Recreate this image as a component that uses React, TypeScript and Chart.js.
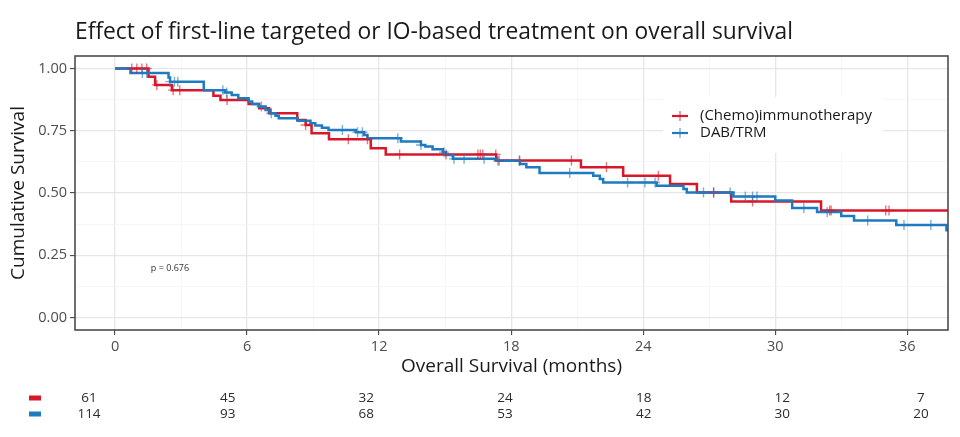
import React, { useEffect, useRef } from 'react';
import { Chart, registerables } from 'chart.js';

Chart.register(...registerables);

const TITLE = 'Effect of first-line targeted or IO-based treatment on overall survival';
const Y_TITLE = 'Cumulative Survival';
const X_TITLE = 'Overall Survival (months)';
const P_TEXT = 'p = 0.676';

const seriesNames = ['(Chemo)immunotherapy', 'DAB/TRM'];
const seriesColors = ['#D7182A', '#1F7BBF'];
const censorColors = ['rgba(215,24,42,0.6)', 'rgba(31,123,191,0.6)'];

const xMajorTicks = [0, 6, 12, 18, 24, 30, 36];
const xTickLabels = ['0', '6', '12', '18', '24', '30', '36'];
const yMajorTicks = [0, 0.25, 0.5, 0.75, 1];
const yTickLabels = ['0.00', '0.25', '0.50', '0.75', '1.00'];

const chemoTimes = [0, 1.52, 1.82, 2.58, 4.47, 4.79, 6.07, 6.55, 7.0, 8.28, 8.66, 8.93, 9.72, 11.62, 12.3, 17.32, 21.17, 23.09, 25.22, 26.44, 28.0, 32.08, 38.5];
const chemoSurv = [1, 0.967, 0.934, 0.913, 0.89, 0.873, 0.857, 0.84, 0.82, 0.793, 0.773, 0.74, 0.716, 0.68, 0.655, 0.63, 0.603, 0.569, 0.536, 0.502, 0.466, 0.43, 0.43];
const chemoCensorTimes = [0.76, 0.99, 1.22, 1.44, 1.9, 2.64, 2.94, 5.09, 8.66, 10.6, 11.47, 12.93, 15.04, 16.49, 16.6, 16.71, 17.3, 17.45, 18.38, 20.74, 22.33, 24.69, 27.2, 28.97, 32.47, 32.54, 35.02, 35.17];

const dabTimes = [0, 0.7, 2.43, 2.5, 4.03, 5.0, 5.3, 5.6, 6.07, 6.23, 6.53, 6.84, 7.06, 7.29, 7.44, 8.3, 8.88, 9.1, 9.4, 9.7, 10.94, 11.32, 11.47, 12.99, 13.9, 14.1, 14.43, 14.89, 15.04, 15.35, 17.35, 18.4, 18.69, 19.29, 21.73, 22.03, 22.18, 24.61, 25.83, 25.98, 28.1, 30.0, 30.77, 31.9, 33.0, 33.58, 35.5, 37.78, 38.2];
const dabSurv = [1, 0.982, 0.964, 0.947, 0.913, 0.903, 0.893, 0.88, 0.867, 0.857, 0.847, 0.833, 0.82, 0.81, 0.8, 0.79, 0.78, 0.771, 0.762, 0.753, 0.744, 0.733, 0.72, 0.707, 0.693, 0.687, 0.676, 0.664, 0.653, 0.637, 0.629, 0.616, 0.603, 0.58, 0.569, 0.556, 0.542, 0.529, 0.516, 0.502, 0.486, 0.47, 0.44, 0.424, 0.408, 0.39, 0.372, 0.35, 0.32];
const dabCensorTimes = [1.24, 1.44, 2.5, 2.7, 2.85, 4.9, 5.07, 6.65, 7.1, 10.33, 11.02, 11.24, 12.85, 13.9, 14.95, 15.4, 15.86, 16.77, 17.4, 18.38, 20.66, 23.29, 24.08, 24.54, 26.74, 27.2, 27.95, 28.64, 28.97, 29.17, 31.3, 32.36, 34.2, 35.85, 37.07];

const riskTimes = [0, 6, 12, 18, 24, 30, 36];
const chemoAtRisk = [61, 45, 32, 24, 18, 12, 7];
const dabAtRisk = [114, 93, 68, 53, 42, 30, 20];

const FONT = '"Open Sans", "Noto Sans", sans-serif';

function survAt(times: number[], surv: number[], t: number) {
  let s = surv[0];
  for (let i = 0; i < times.length; i++) {
    if (times[i] <= t) s = surv[i];
  }
  return s;
}

const isMajorX = (v: number) => xMajorTicks.some((m) => Math.abs(m - v) < 1e-6);
const isMajorY = (v: number) => yMajorTicks.some((m) => Math.abs(m - v) < 1e-6);

export default function App() {
  const ref = useRef<HTMLCanvasElement | null>(null);

  useEffect(() => {
    const canvas = ref.current;
    if (!canvas) return;

    const decor = {
      id: 'decor',
      beforeDraw(chart: any) {
        const { ctx } = chart;
        ctx.save();
        ctx.fillStyle = '#ffffff';
        ctx.fillRect(0, 0, chart.width, chart.height);
        ctx.restore();
      },
      afterDatasetsDraw(chart: any) {
        const { ctx, chartArea } = chart;
        ctx.save();
        ctx.strokeStyle = '#4d4d4d';
        ctx.lineWidth = 1.6;
        ctx.strokeRect(chartArea.left, chartArea.top, chartArea.right - chartArea.left, chartArea.bottom - chartArea.top);

        ctx.fillStyle = '#ffffff';
        ctx.fillRect(663, 97, 220, 56);
        seriesNames.forEach((name, i) => {
          const y = 116 + i * 17;
          ctx.strokeStyle = seriesColors[i];
          ctx.lineWidth = 2.2;
          ctx.beginPath();
          ctx.moveTo(672, y);
          ctx.lineTo(688, y);
          ctx.stroke();
          ctx.strokeStyle = censorColors[i];
          ctx.lineWidth = 1.5;
          ctx.beginPath();
          ctx.moveTo(680, y - 5);
          ctx.lineTo(680, y + 5);
          ctx.stroke();
          ctx.fillStyle = '#1a1a1a';
          ctx.font = `15px ${FONT}`;
          ctx.textAlign = 'left';
          ctx.textBaseline = 'middle';
          ctx.fillText(name, 700, y);
        });

        ctx.fillStyle = '#333333';
        ctx.font = `9px ${FONT}`;
        ctx.textAlign = 'center';
        ctx.textBaseline = 'middle';
        ctx.fillText(P_TEXT, 170, 268);
        ctx.restore();
      },
      afterDraw(chart: any) {
        const { ctx } = chart;
        ctx.save();
        ctx.fillStyle = '#1a1a1a';
        ctx.font = `22.8px ${FONT}`;
        ctx.textAlign = 'left';
        ctx.textBaseline = 'alphabetic';
        ctx.fillText(TITLE, 75, 39);

        const xr = chart.scales.xr;
        const rows = [chemoAtRisk, dabAtRisk];
        rows.forEach((row, i) => {
          const y = 398 + i * 16;
          ctx.fillStyle = seriesColors[i];
          ctx.fillRect(29, y - 2.5, 12, 5);
          ctx.fillStyle = '#2b2b2b';
          ctx.font = `13.5px ${FONT}`;
          ctx.textAlign = 'center';
          ctx.textBaseline = 'middle';
          row.forEach((n, j) => {
            ctx.fillText(String(n), xr.getPixelForValue(riskTimes[j]), y);
          });
        });
        ctx.restore();
      },
    };

    const lineDs = (times: number[], surv: number[], i: number, order: number) => ({
      type: 'line' as const,
      label: seriesNames[i],
      data: times.map((t, k) => ({ x: t, y: surv[k] })),
      borderColor: seriesColors[i],
      backgroundColor: seriesColors[i],
      borderWidth: 2.5,
      stepped: 'before' as const,
      tension: 0,
      pointRadius: 0,
      fill: false,
      order,
    });

    const censorDs = (censors: number[], times: number[], surv: number[], i: number, order: number) => ({
      type: 'scatter' as const,
      label: seriesNames[i] + ' censored',
      data: censors.map((t) => ({ x: t, y: survAt(times, surv, t) })),
      pointStyle: 'cross' as const,
      pointRadius: 5,
      pointBorderWidth: 1.4,
      borderColor: censorColors[i],
      backgroundColor: censorColors[i],
      showLine: false,
      order,
    });

    const chart = new Chart(canvas, {
      type: 'line',
      data: {
        datasets: [
          censorDs(dabCensorTimes, dabTimes, dabSurv, 1, -2),
          censorDs(chemoCensorTimes, chemoTimes, chemoSurv, 0, -1),
          lineDs(dabTimes, dabSurv, 1, 0),
          lineDs(chemoTimes, chemoSurv, 0, 1),
        ] as any,
      },
      options: {
        responsive: false,
        animation: false,
        devicePixelRatio: 1,
        layout: { padding: { left: 0, top: 56, right: 12, bottom: 57 } },
        plugins: {
          legend: { display: false },
          title: { display: false },
          tooltip: { enabled: false },
        },
        scales: {
          x: {
            type: 'linear',
            min: -1.82,
            max: 37.85,
            afterBuildTicks: (scale: any) => {
              const t = [];
              for (let v = 0; v <= 36; v += 3) t.push({ value: v });
              scale.ticks = t;
            },
            afterFit: (scale: any) => {
              scale.height = 50;
            },
            border: { display: false },
            grid: {
              color: (c: any) => (isMajorX(c.tick.value) ? '#e6e6e6' : '#f2f2f2'),
              lineWidth: (c: any) => (isMajorX(c.tick.value) ? 1.3 : 0.7),
              tickColor: (c: any) => (isMajorX(c.tick.value) ? '#333333' : 'rgba(0,0,0,0)'),
              tickLength: 5,
              tickWidth: 1,
              drawTicks: true,
            },
            ticks: {
              autoSkip: false,
              maxRotation: 0,
              padding: 3,
              color: '#4d4d4d',
              font: { family: FONT, size: 14.5 },
              callback: (v: any) => {
                const idx = xMajorTicks.findIndex((m) => Math.abs(m - Number(v)) < 1e-6);
                return idx >= 0 ? xTickLabels[idx] : '';
              },
            },
            title: {
              display: true,
              text: X_TITLE,
              color: '#1a1a1a',
              font: { family: FONT, size: 19 },
              padding: { top: 0, bottom: 2 },
            },
          },
          xr: {
            type: 'linear',
            display: false,
            position: 'bottom',
            min: -0.606,
            max: 37.17,
          },
          y: {
            type: 'linear',
            min: -0.05,
            max: 1.05,
            afterBuildTicks: (scale: any) => {
              const t = [];
              for (let k = 0; k <= 8; k++) t.push({ value: k * 0.125 });
              scale.ticks = t;
            },
            afterFit: (scale: any) => {
              scale.width = 75;
            },
            border: { display: false },
            grid: {
              color: (c: any) => (isMajorY(c.tick.value) ? '#e6e6e6' : '#f2f2f2'),
              lineWidth: (c: any) => (isMajorY(c.tick.value) ? 1.3 : 0.7),
              tickColor: (c: any) => (isMajorY(c.tick.value) ? '#333333' : 'rgba(0,0,0,0)'),
              tickLength: 5,
              tickWidth: 1,
              drawTicks: true,
            },
            ticks: {
              autoSkip: false,
              padding: 3,
              color: '#4d4d4d',
              font: { family: FONT, size: 14.5 },
              callback: (v: any) => {
                const idx = yMajorTicks.findIndex((m) => Math.abs(m - Number(v)) < 1e-6);
                return idx >= 0 ? yTickLabels[idx] : '';
              },
            },
            title: {
              display: true,
              text: Y_TITLE,
              color: '#1a1a1a',
              font: { family: FONT, size: 19 },
              padding: { top: 7, bottom: 0 },
            },
          },
        },
      } as any,
      plugins: [decor],
    });

    return () => chart.destroy();
  }, []);

  return (
    <div style={{ position: 'fixed', left: 0, top: 0, width: 960, height: 437, background: '#fff' }}>
      <canvas ref={ref} width={960} height={437} style={{ display: 'block', width: 960, height: 437 }} />
    </div>
  );
}
